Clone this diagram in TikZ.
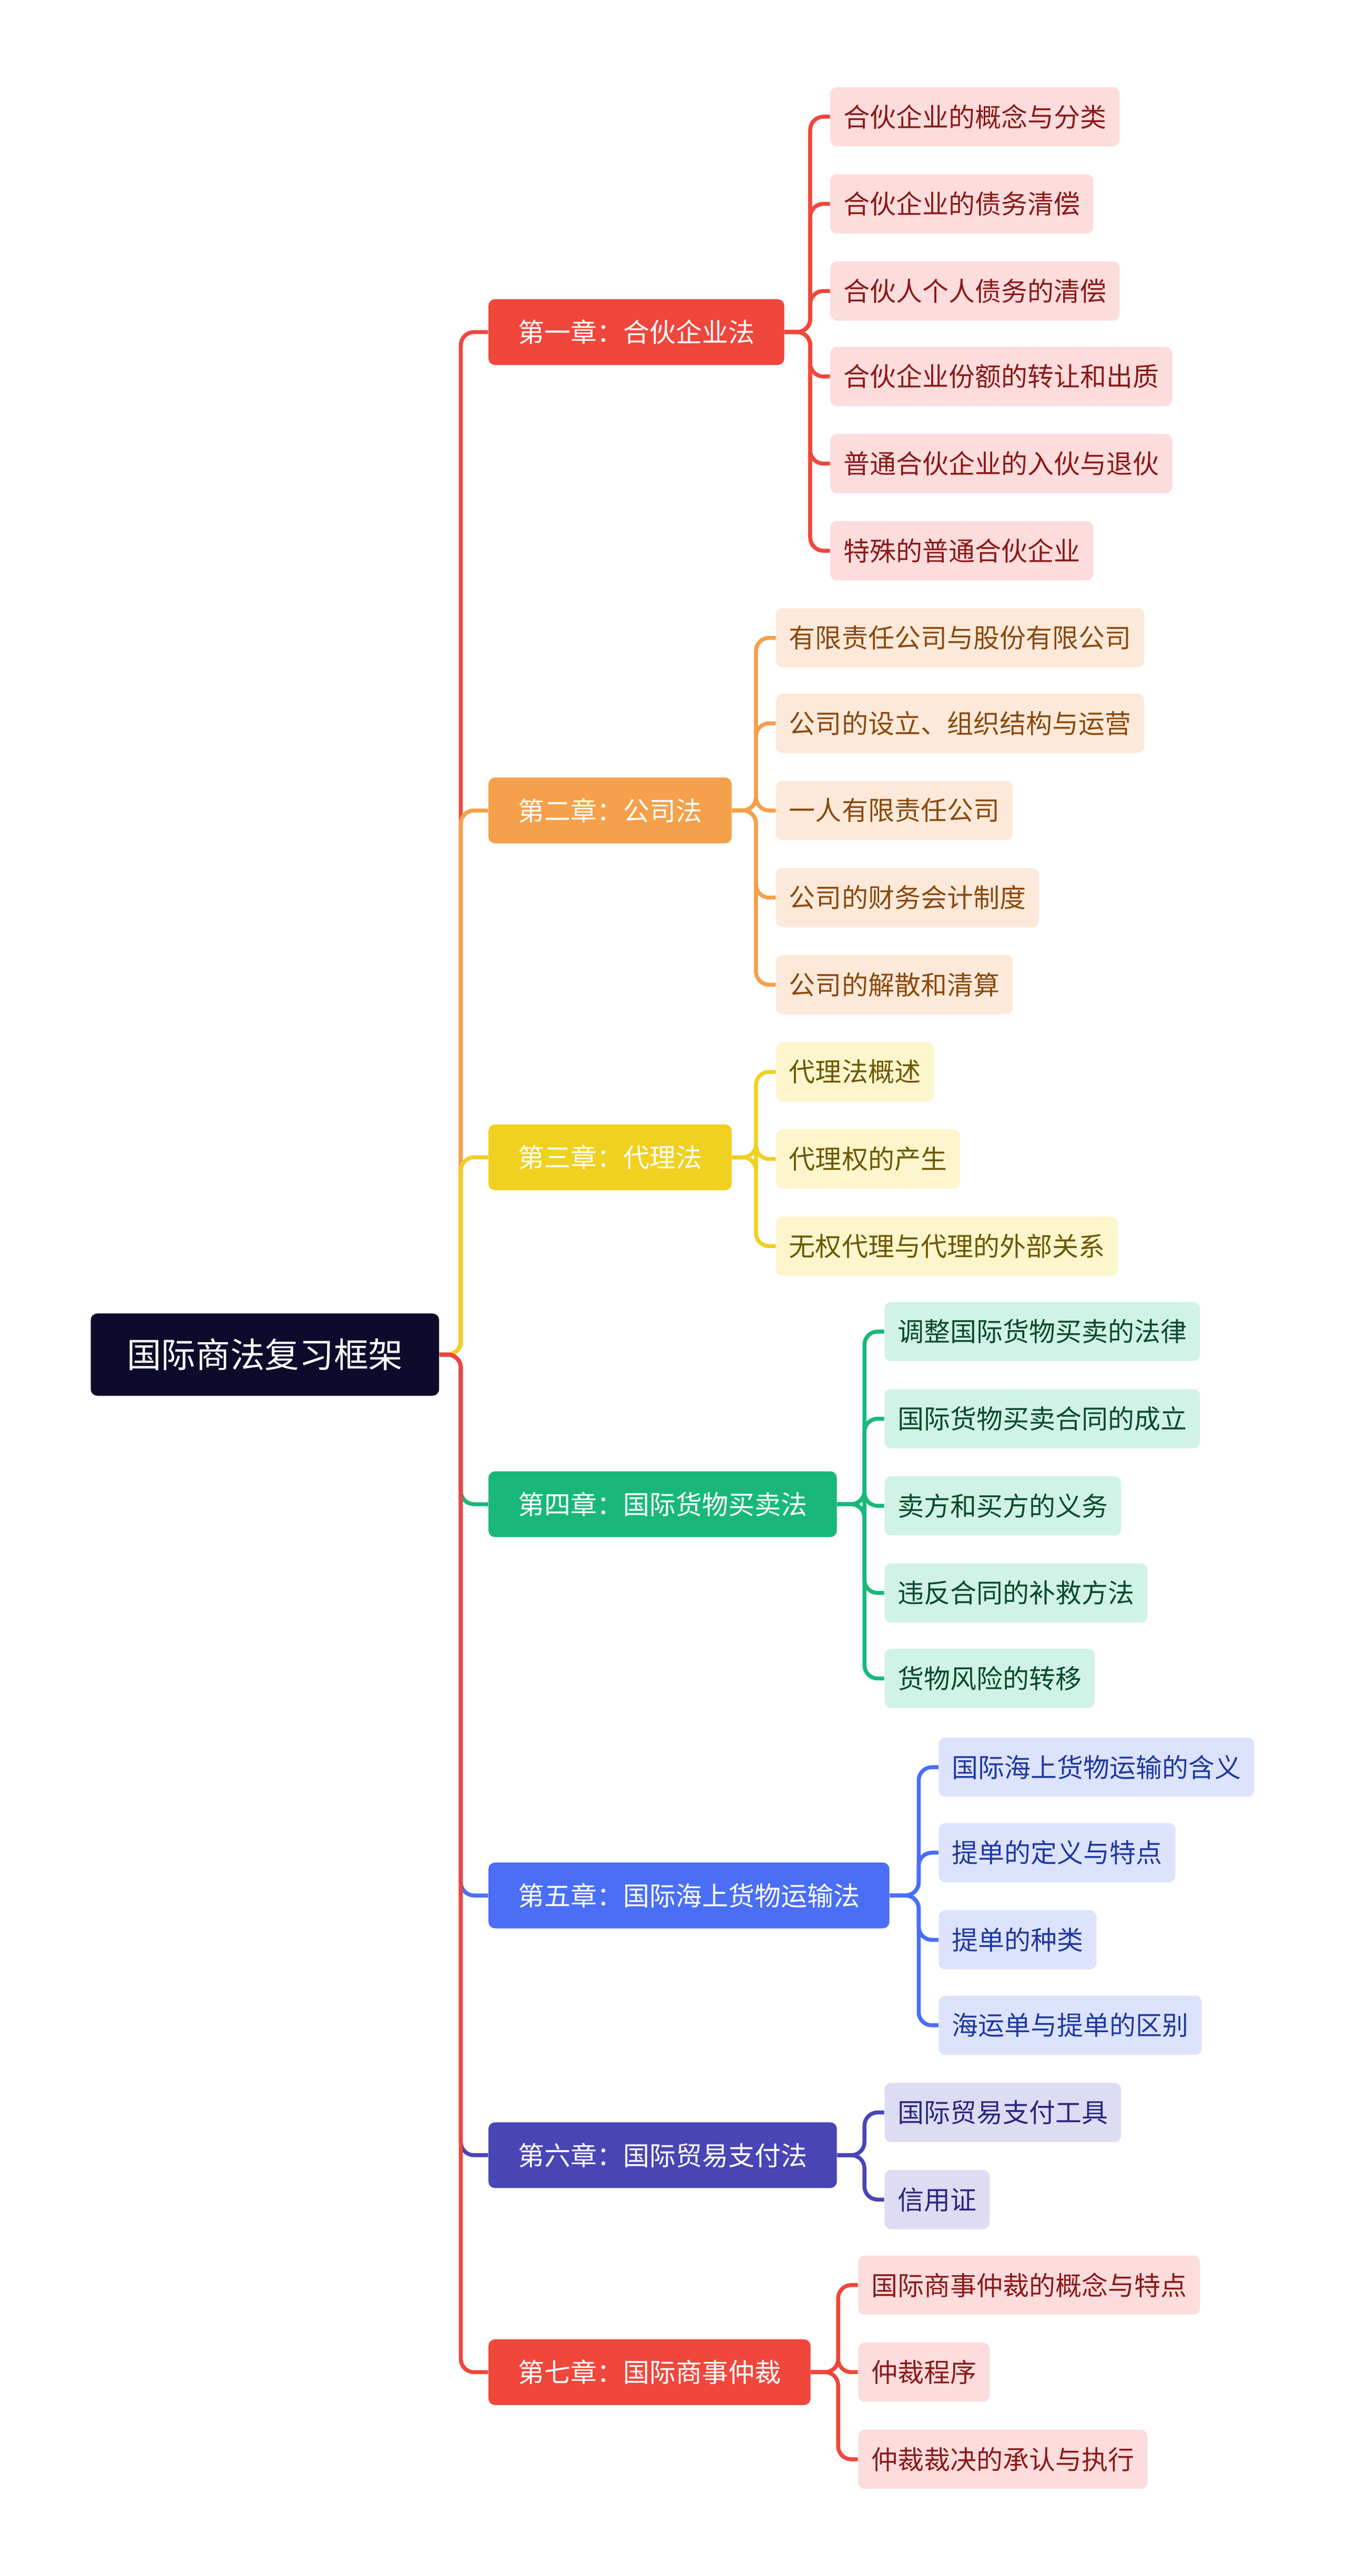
\documentclass[tikz,border=0pt]{standalone}
\usepackage{fontspec}
\setmainfont{Noto Sans CJK SC}
\usetikzlibrary{positioning}
\definecolor{rootc}{HTML}{0C0B2B}
\definecolor{cA}{HTML}{F0463C}\definecolor{fA}{HTML}{FCDCDC}\definecolor{tA}{HTML}{8B1A1A}
\definecolor{cB}{HTML}{F5A04A}\definecolor{fB}{HTML}{FDE9D9}\definecolor{tB}{HTML}{8A4A10}
\definecolor{cC}{HTML}{F0D020}\definecolor{fC}{HTML}{FDF5CC}\definecolor{tC}{HTML}{6E5800}
\definecolor{cD}{HTML}{19B87A}\definecolor{fD}{HTML}{D1F2E6}\definecolor{tD}{HTML}{0A4A30}
\definecolor{cE}{HTML}{4A6EF5}\definecolor{fE}{HTML}{DDE3FD}\definecolor{tE}{HTML}{1F3AA0}
\definecolor{cF}{HTML}{4A45B5}\definecolor{fF}{HTML}{DDDCF2}\definecolor{tF}{HTML}{2A2780}
\begin{document}
\begin{tikzpicture}[x=1pt,y=-1pt,
    root/.style={fill=rootc,text=white,rounded corners=4pt,minimum height=50pt,inner xsep=22pt,
      font=\fontsize{21}{24}\selectfont,anchor=west},
    chap/.style={fill=#1,text=white,rounded corners=4pt,minimum height=40pt,inner xsep=18pt,
      font=\fontsize{16}{19}\selectfont,anchor=west},
    leaf/.style 2 args={fill=#1,text=#2,rounded corners=4pt,minimum height=36pt,inner xsep=8pt,
      font=\fontsize{16}{19}\selectfont,anchor=west},
    link/.style={draw=#1,line width=2.4pt,rounded corners=8pt}]
  \fill[white] (0,0) rectangle (819,1567);
  \useasboundingbox (0,0) rectangle (819,1567);

  \node[root] (root) at (55,824) {国际商法复习框架};

  \node[chap=cA] (c1) at (297,202) {第一章：合伙企业法};
  \node[chap=cB] (c2) at (297,493) {第二章：公司法};
  \node[chap=cC] (c3) at (297,704) {第三章：代理法};
  \node[chap=cD] (c4) at (297,915) {第四章：国际货物买卖法};
  \node[chap=cE] (c5) at (297,1153) {第五章：国际海上货物运输法};
  \node[chap=cF] (c6) at (297,1311) {第六章：国际贸易支付法};
  \node[chap=cA] (c7) at (297,1443) {第七章：国际商事仲裁};

  % root to chapters
  \foreach \c/\col in {c1/cA,c2/cB,c3/cC,c4/cD,c5/cE,c6/cF,c7/cA}
    \draw[link=\col] (root.east) -- ++(13,0) |- (\c.west);

  % leaves
  \foreach \i/\y/\t in {1/71/合伙企业的概念与分类,2/124/合伙企业的债务清偿,3/177/合伙人个人债务的清偿,
      4/229/合伙企业份额的转让和出质,5/282/普通合伙企业的入伙与退伙,6/335/特殊的普通合伙企业}{
    \node[leaf={fA}{tA}] (a\i) at (505,\y) {\t};
    \draw[link=cA] (c1.east) -- (493,202) |- (a\i.west);}
  \foreach \i/\y/\t in {1/388/有限责任公司与股份有限公司,2/440/公司的设立、组织结构与运营,3/493/一人有限责任公司,
      4/546/公司的财务会计制度,5/599/公司的解散和清算}{
    \node[leaf={fB}{tB}] (b\i) at (472,\y) {\t};
    \draw[link=cB] (c2.east) -- (460,493) |- (b\i.west);}
  \foreach \i/\y/\t in {1/652/代理法概述,2/705/代理权的产生,3/758/无权代理与代理的外部关系}{
    \node[leaf={fC}{tC}] (d\i) at (472,\y) {\t};
    \draw[link=cC] (c3.east) -- (460,704) |- (d\i.west);}
  \foreach \i/\y/\t in {1/810/调整国际货物买卖的法律,2/863/国际货物买卖合同的成立,3/916/卖方和买方的义务,
      4/969/违反合同的补救方法,5/1021/货物风险的转移}{
    \node[leaf={fD}{tD}] (e\i) at (538,\y) {\t};
    \draw[link=cD] (c4.east) -- (526,915) |- (e\i.west);}
  \foreach \i/\y/\t in {1/1075/国际海上货物运输的含义,2/1127/提单的定义与特点,3/1180/提单的种类,4/1232/海运单与提单的区别}{
    \node[leaf={fE}{tE}] (f\i) at (571,\y) {\t};
    \draw[link=cE] (c5.east) -- (559,1153) |- (f\i.west);}
  \foreach \i/\y/\t in {1/1285/国际贸易支付工具,2/1338/信用证}{
    \node[leaf={fF}{tF}] (g\i) at (538,\y) {\t};
    \draw[link=cF] (c6.east) -- (526,1311) |- (g\i.west);}
  \foreach \i/\y/\t in {1/1390/国际商事仲裁的概念与特点,2/1443/仲裁程序,3/1496/仲裁裁决的承认与执行}{
    \node[leaf={fA}{tA}] (h\i) at (522,\y) {\t};
    \draw[link=cA] (c7.east) -- (510,1443) |- (h\i.west);}
\end{tikzpicture}
\end{document}
